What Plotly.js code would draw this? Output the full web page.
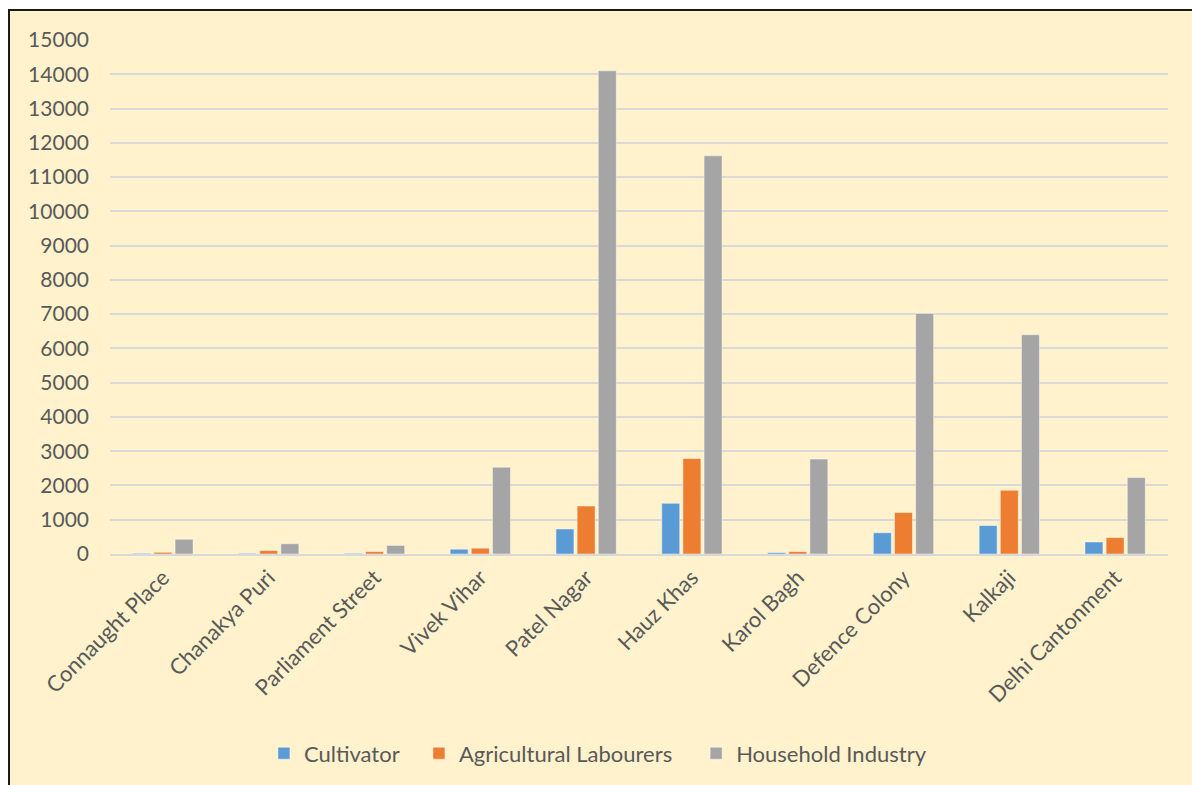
<!DOCTYPE html>
<html>
<head>
<meta charset="utf-8">
<script src="https://cdn.plot.ly/plotly-3.0.1.min.js"></script>
<style>
  html, body { margin: 0; padding: 0; background: #ffffff; width: 1192px; height: 785px; overflow: hidden; }
  #frame {
    position: absolute; left: 8px; top: 9px;
    width: 1184px; height: 776px;
    border-left: 2px solid #1a1a1a; border-top: 2px solid #1a1a1a;
    background: #FFF2CC;
  }
  #chart { width: 1184px; height: 776px; }
</style>
</head>
<body>
<div id="frame"><div id="chart"></div></div>
<script>
// Workers by category in each Delhi sub-district
const districts = ["Connaught Place", "Chanakya Puri", "Parliament Street", "Vivek Vihar",
  "Patel Nagar", "Hauz Khas", "Karol Bagh", "Defence Colony", "Kalkaji", "Delhi Cantonment"];
const cultivator = [20, 20, 20, 140, 730, 1480, 40, 620, 830, 350];
const agriculturalLabourers = [50, 100, 70, 170, 1400, 2790, 70, 1210, 1860, 480];
const householdIndustry = [430, 300, 250, 2530, 14100, 11620, 2770, 7020, 6400, 2230];
const yTicks = [0, 1000, 2000, 3000, 4000, 5000, 6000, 7000, 8000, 9000, 10000,
  11000, 12000, 13000, 14000, 15000];

const family = "Lato, Carlito, 'Open Sans', sans-serif";
const textColor = "#595959";
const edge = { color: "rgba(255,255,255,0.45)", width: 1 };

// one legend per series so each entry sits at its own spot along the bottom
const series = [
  { name: "Cultivator", y: cultivator, color: "#5B9BD5", legend: "legend" },
  { name: "Agricultural Labourers", y: agriculturalLabourers, color: "#ED7D31", legend: "legend2" },
  { name: "Household Industry", y: householdIndustry, color: "#A5A5A5", legend: "legend3" }
];
const traces = series.map(s => ({
  type: "bar", name: s.name, x: districts, y: s.y, legend: s.legend,
  marker: { color: s.color, line: edge },
  hoverinfo: "x+y+name"
}));

const legendAt = x => ({
  orientation: "h", x: x, xanchor: "left", y: -0.388, yanchor: "middle",
  font: { family: family, size: 22, color: textColor },
  bgcolor: "rgba(0,0,0,0)", borderwidth: 0
});

const layout = {
  width: 1184, height: 776,
  margin: { l: 100, r: 26, t: 29, b: 233, pad: 0 },
  paper_bgcolor: "rgba(0,0,0,0)",
  plot_bgcolor: "rgba(0,0,0,0)",
  font: { family: family, size: 22, color: textColor },
  barmode: "group",
  bargap: 0.4,
  bargroupgap: 0.15,
  showlegend: true,
  legend: legendAt(0.1455),
  legend2: legendAt(0.2920),
  legend3: legendAt(0.5540),
  xaxis: {
    type: "category", tickangle: -45, showgrid: false, zeroline: false,
    showline: true, linecolor: "#D9D9D9", linewidth: 2, ticks: "",
    tickfont: { family: family, size: 22, color: textColor }
  },
  yaxis: {
    range: [0, 15000], tickvals: yTicks, ticktext: yTicks.map(String),
    showgrid: true, gridcolor: "#D9D9D9", gridwidth: 2, zeroline: false,
    showline: false, ticks: "", ticklabelstandoff: 20,
    tickfont: { family: family, size: 21, color: textColor }
  }
};

Plotly.newPlot("chart", traces, layout, { displayModeBar: false, staticPlot: true });
</script>
</body>
</html>
